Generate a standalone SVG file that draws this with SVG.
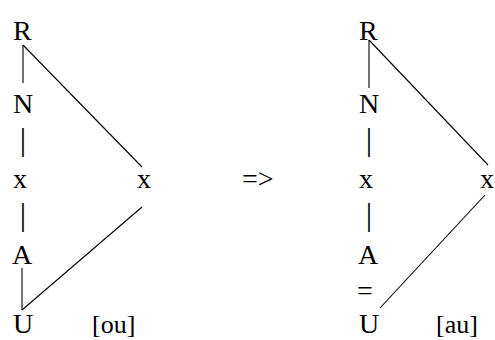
<svg xmlns="http://www.w3.org/2000/svg" width="495" height="340" viewBox="0 0 495 340">
<style>
text{font-family:"Liberation Serif","Times New Roman",serif;font-size:28px;fill:#000}
.c{text-anchor:middle}
.b{font-size:32px}
.t{font-size:26px}
line{stroke:#000;stroke-width:1.1;fill:none}
</style>
<rect width="495" height="340" fill="#fff"/>
<g id="connectors">
<line x1="23" y1="45" x2="23" y2="83"/>
<line x1="23" y1="45" x2="142" y2="167"/>
<line x1="142" y1="207" x2="22" y2="310"/>
<line x1="22" y1="268" x2="22" y2="310"/>
<line x1="369" y1="40" x2="369" y2="88"/>
<line x1="369" y1="40" x2="488" y2="165"/>
<line x1="485" y1="195" x2="380" y2="308"/>
</g>
<g id="left">
<g id="L_R"><text x="13" y="40">R</text></g>
<g id="L_N"><text x="13" y="113">N</text></g>
<g id="L_bar1"><text class="c b" x="23" y="150">|</text></g>
<g id="L_x"><text x="13" y="188">x</text></g>
<g id="L_bar2"><text class="c b" x="23" y="225">|</text></g>
<g id="L_A"><text x="12" y="264">A</text></g>
<g id="L_U"><text x="13" y="333">U</text></g>
<g id="L_x2"><text x="137" y="188">x</text></g>
<g id="L_ou"><text class="t" x="92" y="333">[ou]</text></g>
</g>
<g id="arrow"><text x="242" y="188">=&gt;</text></g>
<g id="right">
<g id="R_R"><text x="359" y="40">R</text></g>
<g id="R_N"><text x="359" y="113">N</text></g>
<g id="R_bar1"><text class="c b" x="369" y="150">|</text></g>
<g id="R_x"><text x="359" y="188">x</text></g>
<g id="R_bar2"><text class="c b" x="369" y="225">|</text></g>
<g id="R_A"><text x="358" y="264">A</text></g>
<g id="R_eq"><text x="357" y="300">=</text></g>
<g id="R_U"><text x="359" y="333">U</text></g>
<g id="R_x2"><text x="480" y="188">x</text></g>
<g id="R_au"><text class="t" x="436" y="333">[au]</text></g>
</g>
</svg>
